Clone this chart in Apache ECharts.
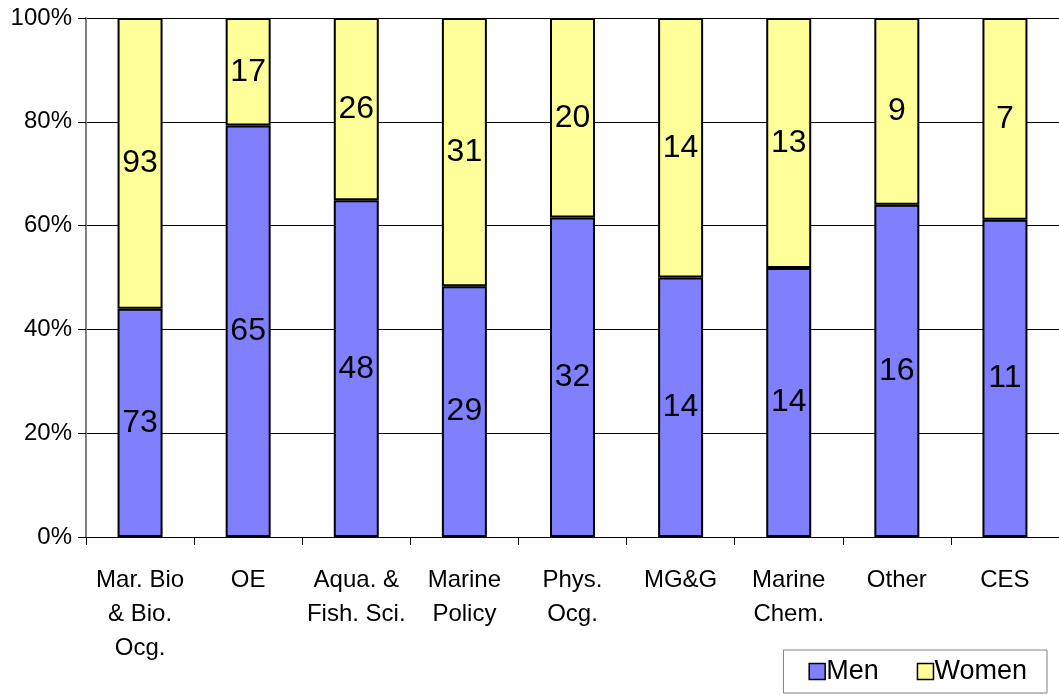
<!DOCTYPE html>
<html><head><meta charset="utf-8">
<script src="https://cdn.jsdelivr.net/npm/echarts@6/dist/echarts.min.js"></script>
<style>html,body{margin:0;padding:0;background:#fff}#c{width:1059px;height:695px}</style>
</head><body><div id="c"></div>
<script>
const categories = ['Mar. Bio\n& Bio.\nOcg.', 'OE', 'Aqua. &\nFish. Sci.', 'Marine\nPolicy', 'Phys.\nOcg.', 'MG&G', 'Marine\nChem.', 'Other', 'CES'];
const men = [73, 65, 48, 29, 32, 14, 14, 16, 11];
const women = [93, 17, 26, 31, 20, 14, 13, 9, 7];
const yTicks = ['0%', '20%', '40%', '60%', '80%', '100%'];

const totals = men.map((m, i) => m + women[i]);
const menPct = men.map((m, i) => m / totals[i] * 100);
const womenPct = women.map((w, i) => w / totals[i] * 100);

const font = 'Liberation Sans, Arial, sans-serif';
const chart = echarts.init(document.getElementById('c'), null, {renderer: 'canvas'});
const labelStyle = (raw) => ({
  show: true, position: 'inside', color: '#000', fontSize: 32, fontFamily: font,
  formatter: p => String(raw[p.dataIndex])
});
chart.setOption({
  animation: false,
  grid: {left: 86, right: 0, top: 18, bottom: 158, containLabel: false},
  legend: {
    data: ['Men', 'Women'], right: 12, bottom: 2, orient: 'horizontal',
    itemWidth: 16, itemHeight: 16, itemGap: 38,
    padding: [8, 20, 8, 25],
    borderColor: '#808080', borderWidth: 1,
    textStyle: {fontSize: 27, fontFamily: font, color: '#000', padding: [0,0,0,-4]},
    icon: 'rect',
    itemStyle: {borderColor: '#000', borderWidth: 1.5}
  },
  xAxis: {
    type: 'category', data: categories,
    axisLine: {lineStyle: {color: '#000', width: 1}},
    axisTick: {show: true, alignWithLabel: false, length: 8, lineStyle: {color: '#000'}},
    axisLabel: {fontSize: 24, fontFamily: font, color: '#000', lineHeight: 34, margin: 26, interval: 0}
  },
  yAxis: {
    type: 'value', min: 0, max: 100, interval: 20,
    axisLine: {show: true, lineStyle: {color: '#808080', width: 2}},
    axisTick: {show: true, length: 8, lineStyle: {color: '#000'}},
    splitLine: {show: true, lineStyle: {color: '#000', width: 1}},
    axisLabel: {fontSize: 24, fontFamily: font, color: '#000', margin: 14,
      formatter: v => yTicks[Math.round(v / 20)]}
  },
  series: [
    {name: 'Men', type: 'bar', stack: 'a', data: menPct, barWidth: 45,
     itemStyle: {color: '#8080FF', borderColor: '#000', borderWidth: 2},
     label: labelStyle(men)},
    {name: 'Women', type: 'bar', stack: 'a', data: womenPct, barWidth: 45,
     itemStyle: {color: '#FFFF99', borderColor: '#000', borderWidth: 2},
     label: labelStyle(women)}
  ]
});
</script></body></html>
